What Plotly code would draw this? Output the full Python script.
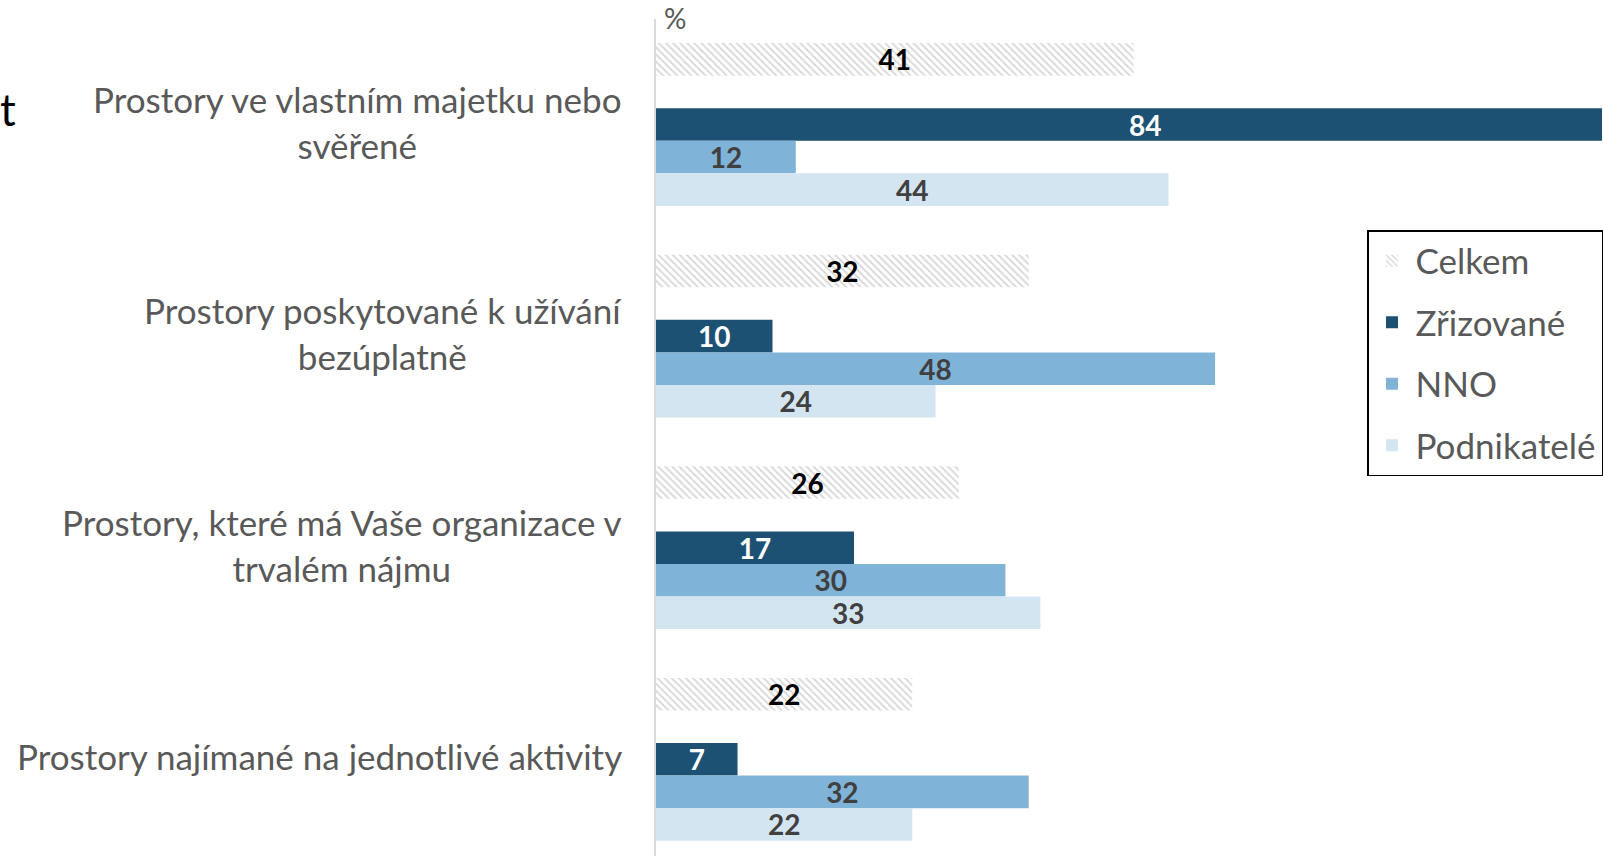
import plotly.graph_objects as go

# Data
kategorie = [
    "Prostory ve vlastním majetku nebo svěřené",
    "Prostory poskytované k užívání bezúplatně",
    "Prostory, které má Vaše organizace v trvalém nájmu",
    "Prostory najímané na jednotlivé aktivity",
]
popisky = [
    "Prostory ve vlastním majetku nebo<br>svěřené",
    "Prostory poskytované k užívání<br>bezúplatně",
    "Prostory, které má Vaše organizace v<br>trvalém nájmu",
    "Prostory najímané na jednotlivé aktivity",
]
celkem = [41, 32, 26, 22]
zrizovane = [84, 10, 17, 7]
nno = [12, 48, 30, 32]
podnikatele = [44, 24, 33, 22]

FONT = "Lato"
SEDA = "#595959"

# rozložení v pixelech
W, H = 1603, 856
L, T = 656, 19
PW, PH = W - L, H - T


def px_x(p):
    return (p - L) / PW


def px_y(p):
    return 1 - (p - T) / PH


def sloupce(nazev, hodnoty, barva, barva_textu, vzor=None, legenda=True, skupina=None):
    marker = dict(color=barva, line=dict(width=0))
    if vzor:
        marker["pattern"] = vzor
    return go.Bar(
        name=nazev,
        y=kategorie,
        x=hodnoty,
        orientation="h",
        marker=marker,
        text=hodnoty if legenda else None,
        texttemplate="%{x}" if legenda else None,
        textposition="inside",
        insidetextanchor="middle",
        textangle=0,
        constraintext="none",
        textfont=dict(family=FONT, size=28, color=barva_textu, weight="bold"),
        showlegend=legenda,
        legendgroup=skupina or nazev,
        hoverinfo="skip",
    )


fig = go.Figure()
fig.add_trace(
    sloupce(
        "Celkem",
        celkem,
        "white",
        "black",
        vzor=dict(shape="\\", fgcolor="#b0b0b0", bgcolor="white", size=5, solidity=0.35),
    )
)
# prázdná mezera mezi "Celkem" a ostatními řadami
fig.add_trace(sloupce("", [0, 0, 0, 0], "white", "white", legenda=False, skupina="mezera"))
fig.add_trace(sloupce("Zřizované", zrizovane, "#1c5174", "white"))
fig.add_trace(sloupce("NNO", nno, "#7fb3d8", "#404040"))
fig.add_trace(sloupce("Podnikatelé", podnikatele, "#d4e5f2", "#404040"))

# popisky kategorií (víceřádkové, centrované)
for kat, text in zip(kategorie, popisky):
    fig.add_annotation(
        x=px_x(624),
        xref="paper",
        y=kat,
        yref="y",
        yshift=3,
        text=text,
        showarrow=False,
        xanchor="right",
        yanchor="middle",
        align="center",
        font=dict(family=FONT, size=35, color=SEDA),
    )

fig.add_annotation(
    x=px_x(662), xref="paper", y=px_y(18), yref="paper",
    text="%", showarrow=False, xanchor="left", yanchor="middle",
    font=dict(family=FONT, size=28, color=SEDA),
)
fig.add_annotation(
    x=px_x(-3), xref="paper", y=px_y(109), yref="paper",
    text="t", showarrow=False, xanchor="left", yanchor="middle",
    font=dict(family=FONT, size=44, color="black"),
)

skala = 11.66  # px na jednotku
fig.update_layout(
    width=W,
    height=H,
    margin=dict(l=L, r=0, t=T, b=0, pad=0),
    paper_bgcolor="white",
    plot_bgcolor="white",
    barmode="group",
    bargap=1.5 / 6.5,
    bargroupgap=0,
    font=dict(family=FONT, color=SEDA),
    xaxis=dict(
        range=[0, PW / skala],
        showgrid=False,
        zeroline=False,
        showticklabels=False,
        showline=False,
        ticks="",
    ),
    yaxis=dict(
        range=[-0.4986 + PH / 211.6, -0.4986],
        showgrid=False,
        zeroline=False,
        showticklabels=False,
        showline=True,
        linecolor="#d9d9d9",
        linewidth=2,
        ticks="",
    ),
    legend=dict(
        x=px_x(1368),
        y=px_y(230),
        xanchor="left",
        yanchor="top",
        bgcolor="white",
        bordercolor="black",
        borderwidth=1.5,
        font=dict(family=FONT, size=35, color=SEDA),
        traceorder="grouped",
        tracegroupgap=13,
        itemwidth=37,
    ),
)

fig.write_html(
    "out.html",
    config={"displayModeBar": False},
    post_script="document.body.style.margin='0';document.body.style.overflow='hidden';",
)
